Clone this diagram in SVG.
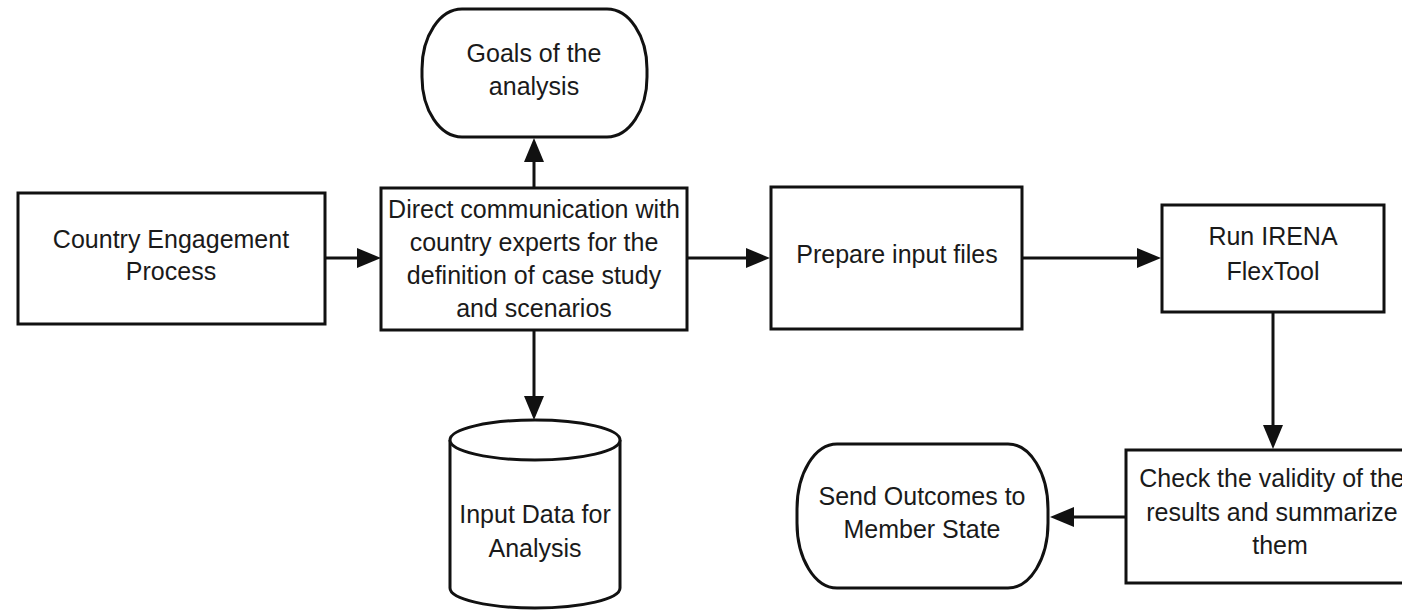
<svg xmlns="http://www.w3.org/2000/svg" width="1402" height="610" viewBox="0 0 1402 610">
<defs>
<style>
.box{fill:#fff;stroke:#111;stroke-width:3}
.lbl{font-family:"Liberation Sans",Arial,sans-serif;font-size:25px;fill:#1a1a1a;text-anchor:middle}
.con{stroke:#111;stroke-width:3;fill:none}
.head{fill:#111}
</style>
</defs>
<rect width="1402" height="610" fill="#fff"/>
<g id="connectors">
<line class="con" x1="325" y1="258" x2="360" y2="258"/>
<polygon class="head" points="381,258 357,248 357,268"/>
<line class="con" x1="534" y1="188" x2="534" y2="160"/>
<polygon class="head" points="534,138 524,162 544,162"/>
<line class="con" x1="534" y1="330" x2="534" y2="400"/>
<polygon class="head" points="534,420 524,396 544,396"/>
<line class="con" x1="687" y1="258" x2="750" y2="258"/>
<polygon class="head" points="770,258 746,248 746,268"/>
<line class="con" x1="1022" y1="258" x2="1140" y2="258"/>
<polygon class="head" points="1161,258 1137,248 1137,268"/>
<line class="con" x1="1273" y1="312" x2="1273" y2="428"/>
<polygon class="head" points="1273,449 1263,425 1283,425"/>
<line class="con" x1="1126" y1="517" x2="1073" y2="517"/>
<polygon class="head" points="1050,517 1074,507 1074,527"/>
</g>
<g id="n-country">
<rect class="box" x="18" y="193" width="307" height="131"/>
<text class="lbl" x="171" y="248">Country Engagement</text>
<text class="lbl" x="171" y="280">Process</text>
</g>
<g id="n-direct">
<rect class="box" x="381" y="188" width="306" height="142"/>
<text class="lbl" x="534" y="218">Direct communication with</text>
<text class="lbl" x="534" y="251">country experts for the</text>
<text class="lbl" x="534" y="284">definition of case study</text>
<text class="lbl" x="534" y="317">and scenarios</text>
</g>
<g id="n-goals">
<rect class="box" x="422" y="9" width="225" height="128" rx="40" ry="60"/>
<text class="lbl" x="534" y="62">Goals of the</text>
<text class="lbl" x="534" y="95">analysis</text>
</g>
<g id="n-input">
<path class="box" d="M450,440 L450,588 A85,20 0 0 0 620,588 L620,440"/>
<ellipse class="box" cx="535" cy="440" rx="85" ry="20"/>
<text class="lbl" x="535" y="523">Input Data for</text>
<text class="lbl" x="535" y="557">Analysis</text>
</g>
<g id="n-prepare">
<rect class="box" x="771" y="187" width="251" height="142"/>
<text class="lbl" x="897" y="263">Prepare input files</text>
</g>
<g id="n-run">
<rect class="box" x="1162" y="205" width="222" height="107"/>
<text class="lbl" x="1273" y="245">Run IRENA</text>
<text class="lbl" x="1273" y="280">FlexTool</text>
</g>
<g id="n-check">
<rect class="box" x="1126" y="450" width="300" height="133"/>
<text class="lbl" x="1272" y="487">Check the validity of the</text>
<text class="lbl" x="1272" y="521">results and summarize</text>
<text class="lbl" x="1280" y="554">them</text>
</g>
<g id="n-send">
<rect class="box" x="797" y="444" width="251" height="144" rx="40" ry="65"/>
<text class="lbl" x="922" y="505">Send Outcomes to</text>
<text class="lbl" x="922" y="538">Member State</text>
</g>
</svg>
